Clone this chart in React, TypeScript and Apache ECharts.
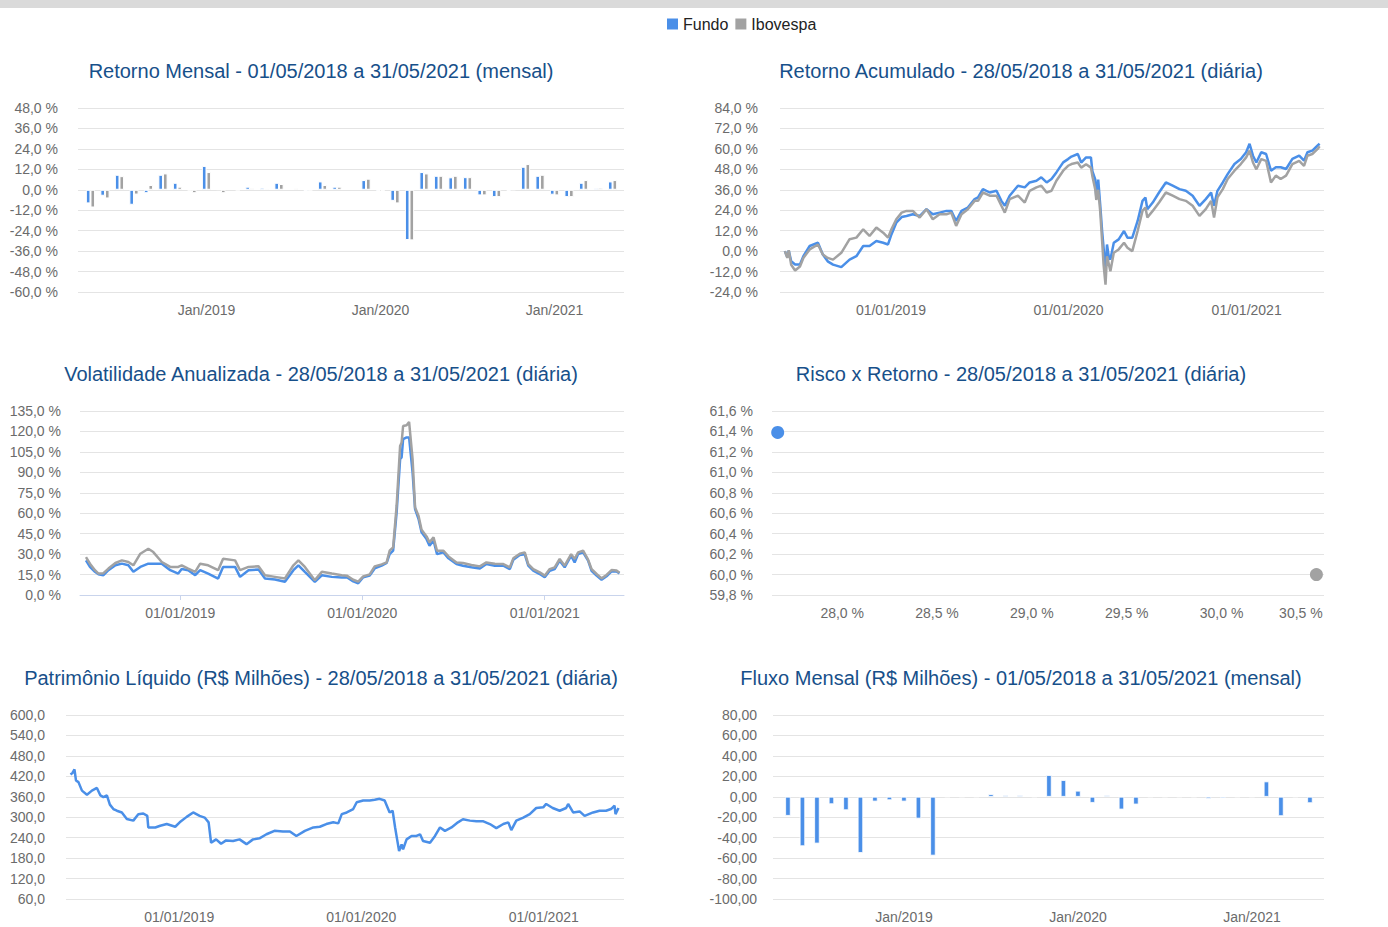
import React, { useEffect, useRef } from 'react';
import * as echarts from 'echarts';

const BLUE = '#4a8fe8';
const GRAY = '#a2a2a2';
const TITLE = '#17508a';
const LABEL = '#6b6b6b';
const GRID = '#e4e4e4';
const FONT = '"Liberation Sans", Arial, Helvetica, sans-serif';

// ---------- Retorno Mensal (37 meses: 05/2018 .. 05/2021)
const mensalMeses = [
  '05/2018', '06/2018', '07/2018', '08/2018', '09/2018', '10/2018', '11/2018', '12/2018',
  '01/2019', '02/2019', '03/2019', '04/2019', '05/2019', '06/2019', '07/2019', '08/2019',
  '09/2019', '10/2019', '11/2019', '12/2019', '01/2020', '02/2020', '03/2020', '04/2020',
  '05/2020', '06/2020', '07/2020', '08/2020', '09/2020', '10/2020', '11/2020', '12/2020',
  '01/2021', '02/2021', '03/2021', '04/2021', '05/2021',
];
const mensalFundo = [
  -8.0, -3.5, 8.8, -8.8, -2.0, 8.8, 4.1, -0.3, 14.0, 0.2, 0.3, 1.8, 1.2, 4.1, 0.4, -0.8,
  4.9, 1.8, 0.3, 5.7, -0.8, -6.5, -29.5, 10.4, 8.2, 7.3, 7.4, -3.3, -4.3, -0.8, 13.5, 8.2,
  -2.9, -4.3, 4.1, 0.9, 4.9,
];
const mensalIbov = [
  -10.4, -5.1, 8.0, -2.8, 2.8, 9.6, 1.8, -2.0, 10.4, -2.0, -0.2, 0.9, 0.7, 3.4, 0.8, -0.3,
  2.8, 1.8, 0.6, 6.5, -0.5, -8.0, -29.7, 9.6, 8.2, 8.2, 7.4, -3.3, -4.3, 0.1, 15.1, 8.8,
  -3.3, -4.3, 5.7, 1.2, 5.7,
];
const mensalTickIdx = [8, 20, 32];
const mensalTickLabels = ['Jan/2019', 'Jan/2020', 'Jan/2021'];

// ---------- Fluxo Mensal (R$ Milhões)
const fluxoMensal = [
  -18.6, -48.3, -45.7, -7.2, -13.1, -54.9, -4.6, -3.3, -4.6, -21.3, -57.5, 0, 0, 0, 2.6, 1.6,
  1.6, 0, 21.2, 16.3, 5.9, -5.9, 1.5, -12.4, -7.5, 0, 0, 0, 0, -2.0, -1.5, 0, 0, 15.0, -18.9,
  0, -6.2,
];

// ---------- Retorno Acumulado (diária)
const acumDatas = [
  '2018-05-28', '2018-06-02', '2018-06-05', '2018-06-10', '2018-06-18', '2018-06-28', '2018-07-05',
  '2018-07-18', '2018-08-04', '2018-08-14', '2018-08-24', '2018-09-04', '2018-09-21', '2018-10-08',
  '2018-10-22', '2018-11-05', '2018-11-18', '2018-12-02', '2018-12-16', '2018-12-26', '2019-01-02',
  '2019-01-12', '2019-01-23', '2019-02-02', '2019-02-15', '2019-03-01', '2019-03-15', '2019-03-28',
  '2019-04-11', '2019-04-25', '2019-05-05', '2019-05-15', '2019-05-26', '2019-06-08', '2019-06-22',
  '2019-06-29', '2019-07-09', '2019-07-23', '2019-08-06', '2019-08-16', '2019-08-23', '2019-09-02',
  '2019-09-19', '2019-10-03', '2019-10-13', '2019-10-27', '2019-11-06', '2019-11-17', '2019-11-27',
  '2019-12-07', '2019-12-21', '2019-12-31', '2020-01-07', '2020-01-20', '2020-01-27', '2020-02-06',
  '2020-02-16', '2020-02-19', '2020-02-25', '2020-02-27', '2020-03-02', '2020-03-06', '2020-03-10',
  '2020-03-13', '2020-03-17', '2020-03-20', '2020-03-24', '2020-03-27', '2020-04-03', '2020-04-13',
  '2020-04-24', '2020-05-01', '2020-05-11', '2020-05-22', '2020-06-01', '2020-06-07', '2020-06-11',
  '2020-06-22', '2020-07-05', '2020-07-19', '2020-08-02', '2020-08-16', '2020-08-29', '2020-09-12',
  '2020-09-26', '2020-10-09', '2020-10-20', '2020-10-26', '2020-11-02', '2020-11-13', '2020-11-23',
  '2020-12-07', '2020-12-20', '2020-12-31', '2021-01-07', '2021-01-14', '2021-01-21', '2021-01-31',
  '2021-02-10', '2021-02-20', '2021-03-02', '2021-03-12', '2021-03-23', '2021-04-05', '2021-04-19',
  '2021-04-29', '2021-05-06', '2021-05-16', '2021-05-27', '2021-05-31',
];
const acumFundo = [
  0, -3.5, 0.3, -6.0, -7.9, -7.9, -3.0, 3.0, 4.9, -2.0, -6.0, -7.9, -9.4, -5.0, -3.0, 3.0, 3.0,
  5.9, 4.9, 3.9, 9.8, 16.7, 20.0, 20.6, 21.6, 20.6, 24.6, 21.6, 22.6, 23.6, 23.6, 17.7, 23.6,
  25.6, 30.5, 31.5, 36.4, 34.4, 35.4, 29.5, 26.6, 32.5, 38.4, 37.4, 40.3, 41.3, 43.3, 40.3, 42.3,
  46.2, 52.1, 54.0, 55.5, 57.0, 52.0, 55.0, 55.0, 47.0, 42.0, 32.0, 42.0, 27.5, 11.8, 2.0, -12.0,
  3.9, -3.9, -4.9, 4.9, 6.9, 11.8, 7.9, 7.9, 17.7, 29.5, 31.5, 24.6, 28.5, 34.4, 40.3, 38.4, 36.4,
  35.4, 32.5, 26.6, 30.5, 34.4, 26.6, 35.4, 40.3, 45.2, 51.1, 54.1, 58.0, 63.0, 56.0, 52.0, 58.0,
  57.0, 47.2, 49.2, 49.2, 48.2, 54.1, 56.0, 53.1, 58.0, 59.0, 62.0, 63.0,
];
const acumIbov = [
  0, -4.0, 0.5, -8.0, -11.4, -9.0, -4.0, 1.0, 3.9, -2.0, -4.0, -5.0, -1.0, 7.0, 7.9, 12.8, 8.9,
  13.8, 10.8, 7.9, 12.8, 18.7, 22.6, 23.6, 23.6, 19.7, 24.6, 18.7, 21.6, 21.6, 22.6, 14.8, 21.6,
  24.6, 29.5, 29.5, 34.4, 32.5, 32.5, 26.6, 22.6, 30.5, 32.5, 28.5, 35.4, 37.4, 38.4, 34.4, 35.4,
  41.3, 47.2, 50.1, 51.1, 52.0, 49.0, 51.0, 49.0, 44.0, 36.0, 30.0, 36.0, 23.6, 6.0, -7.9, -19.7,
  -3.0, -7.9, -11.8, -1.0, 1.0, 4.9, 2.0, 0.0, 11.8, 23.6, 25.6, 19.7, 23.6, 28.5, 34.4, 32.5,
  30.5, 29.5, 26.6, 20.7, 24.6, 29.5, 19.7, 31.5, 36.4, 42.3, 47.2, 51.1, 55.0, 59.0, 52.0, 48.0,
  54.0, 53.0, 40.3, 44.3, 42.3, 44.3, 51.1, 53.0, 50.1, 56.0, 57.0, 60.0, 61.5,
];

// ---------- Volatilidade Anualizada (diária)
const volDatas = [
  '2018-06-26', '2018-07-04', '2018-07-14', '2018-07-21', '2018-07-31', '2018-08-10', '2018-08-24',
  '2018-09-06', '2018-09-19', '2018-09-29', '2018-10-13', '2018-10-29', '2018-11-08', '2018-11-25',
  '2018-12-12', '2018-12-28', '2019-01-04', '2019-01-17', '2019-01-31', '2019-02-10', '2019-02-26',
  '2019-03-18', '2019-03-28', '2019-04-21', '2019-05-01', '2019-05-18', '2019-06-07', '2019-06-20',
  '2019-07-10', '2019-07-30', '2019-08-16', '2019-08-26', '2019-09-08', '2019-09-28', '2019-10-12',
  '2019-11-01', '2019-11-21', '2019-12-01', '2019-12-14', '2019-12-24', '2020-01-03', '2020-01-16',
  '2020-01-26', '2020-02-09', '2020-02-19', '2020-02-25', '2020-03-03', '2020-03-10', '2020-03-17',
  '2020-03-20', '2020-03-23', '2020-03-30', '2020-04-04', '2020-04-11', '2020-04-16', '2020-04-23',
  '2020-04-29', '2020-05-09', '2020-05-15', '2020-05-23', '2020-05-30', '2020-06-12', '2020-06-22',
  '2020-07-08', '2020-07-21', '2020-08-07', '2020-08-24', '2020-09-06', '2020-09-23', '2020-10-10',
  '2020-10-23', '2020-10-30', '2020-11-12', '2020-11-22', '2020-11-29', '2020-12-09', '2020-12-22',
  '2021-01-01', '2021-01-11', '2021-01-21', '2021-01-31', '2021-02-10', '2021-02-23', '2021-03-02',
  '2021-03-09', '2021-03-19', '2021-03-29', '2021-04-05', '2021-04-15', '2021-04-25', '2021-05-05',
  '2021-05-15', '2021-05-25', '2021-05-31',
];
const volFundo = [
  25.4, 20.6, 17.0, 15.2, 14.5, 18.2, 21.8, 23.0, 21.8, 17.0, 20.6, 23.0, 23.0, 23.0, 18.2, 15.7,
  19.0, 18.2, 14.5, 18.2, 15.7, 12.1, 20.6, 20.6, 13.3, 18.2, 18.7, 12.1, 11.4, 9.7, 18.2, 21.8,
  17.0, 9.7, 14.5, 13.3, 12.8, 13.0, 10.0, 8.6, 13.0, 14.2, 19.5, 21.5, 23.5, 30.0, 32.5, 60.6,
  99.7, 100.9, 114.3, 115.6, 115.6, 90.0, 63.0, 55.7, 46.0, 41.0, 36.2, 40.0, 30.0, 31.3, 26.9,
  22.7, 21.5, 20.3, 19.5, 22.7, 21.5, 21.5, 19.0, 25.9, 29.3, 29.8, 21.5, 17.8, 15.4, 13.0, 17.8,
  19.0, 25.2, 20.3, 28.8, 23.9, 30.0, 31.3, 25.2, 17.8, 14.2, 11.2, 13.7, 17.3, 17.3, 15.9,
];
const volIbov = [
  27.8, 23.0, 18.2, 15.7, 16.0, 19.4, 23.5, 25.4, 24.2, 21.8, 30.3, 33.9, 31.5, 24.2, 20.6, 20.6,
  21.8, 19.4, 17.0, 23.0, 21.8, 18.2, 26.6, 25.4, 18.2, 20.6, 21.1, 14.5, 13.3, 12.1, 21.8, 25.4,
  20.6, 10.9, 17.0, 15.7, 14.5, 14.2, 11.2, 9.8, 13.7, 15.1, 21.0, 22.5, 23.9, 32.5, 35.0, 65.5,
  109.4, 111.9, 124.0, 124.6, 127.0, 99.7, 64.3, 58.0, 47.9, 43.0, 38.6, 42.3, 32.5, 32.5, 28.3,
  23.9, 23.5, 22.0, 21.0, 23.9, 23.0, 22.7, 20.3, 26.9, 30.3, 31.3, 22.7, 19.0, 16.6, 14.2, 19.0,
  20.3, 26.4, 21.5, 30.0, 26.4, 31.3, 32.5, 25.9, 19.0, 15.4, 12.2, 14.7, 18.3, 18.0, 16.4,
];

// ---------- Risco x Retorno
const riscoFundo = [27.66, 61.39];
const riscoIbov = [30.5, 60.0];
const riscoTicks = [28.0, 28.5, 29.0, 29.5, 30.0, 30.5];

// ---------- Patrimônio Líquido (R$ Milhões)
const plDatas = [
  '2018-05-28', '2018-06-01', '2018-06-05', '2018-06-08', '2018-06-13', '2018-06-20', '2018-06-30',
  '2018-07-10', '2018-07-20', '2018-07-27', '2018-08-02', '2018-08-09', '2018-08-15', '2018-08-22',
  '2018-08-29', '2018-09-08', '2018-09-18', '2018-10-01', '2018-10-11', '2018-10-21', '2018-10-29',
  '2018-10-31', '2018-11-14', '2018-11-24', '2018-12-07', '2018-12-24', '2019-01-02', '2019-01-16',
  '2019-01-29', '2019-02-11', '2019-02-21', '2019-03-01', '2019-03-06', '2019-03-16', '2019-03-26',
  '2019-04-05', '2019-04-19', '2019-05-02', '2019-05-16', '2019-05-29', '2019-06-11', '2019-06-25',
  '2019-07-11', '2019-07-28', '2019-08-11', '2019-08-24', '2019-09-10', '2019-09-27', '2019-10-10',
  '2019-10-23', '2019-11-06', '2019-11-16', '2019-11-23', '2019-12-03', '2019-12-16', '2019-12-23',
  '2020-01-05', '2020-01-18', '2020-01-28', '2020-02-07', '2020-02-17', '2020-02-27', '2020-03-04',
  '2020-03-09', '2020-03-13', '2020-03-17', '2020-03-22', '2020-03-25', '2020-04-01', '2020-04-11',
  '2020-04-21', '2020-04-28', '2020-05-04', '2020-05-18', '2020-05-28', '2020-06-07', '2020-06-17',
  '2020-06-30', '2020-07-13', '2020-07-23', '2020-08-06', '2020-08-19', '2020-09-02', '2020-09-15',
  '2020-09-28', '2020-10-12', '2020-10-22', '2020-10-28', '2020-11-07', '2020-11-21', '2020-12-04',
  '2020-12-17', '2020-12-31', '2021-01-06', '2021-01-19', '2021-02-02', '2021-02-15', '2021-02-19',
  '2021-03-01', '2021-03-14', '2021-03-24', '2021-04-10', '2021-04-23', '2021-05-06', '2021-05-16',
  '2021-05-23', '2021-05-25', '2021-05-31',
];
const plFundo = [
  425.7, 430.0, 440.5, 408.0, 403.0, 378.0, 366.0, 378.0, 386.0, 364.0, 359.0, 364.0, 337.0, 324.0,
  319.0, 314.0, 295.0, 290.0, 309.0, 311.0, 304.0, 270.0, 270.0, 275.0, 280.0, 272.0, 285.0, 301.0,
  314.0, 304.0, 299.0, 285.0, 225.0, 235.0, 222.0, 232.0, 230.0, 235.0, 221.0, 235.0, 238.0, 250.0,
  260.0, 258.0, 258.0, 245.0, 260.0, 270.0, 272.0, 280.0, 285.0, 282.0, 309.0, 314.0, 324.0, 344.0,
  349.0, 349.0, 351.0, 354.0, 349.0, 314.0, 319.0, 270.0, 235.0, 201.0, 220.0, 206.0, 235.0, 245.0,
  245.0, 250.0, 230.0, 225.0, 245.0, 270.0, 260.0, 270.0, 285.0, 294.0, 290.0, 288.0, 288.0, 280.0,
  268.0, 280.0, 285.0, 262.0, 290.0, 299.0, 309.0, 327.0, 329.0, 339.0, 327.0, 319.0, 327.0, 339.0,
  314.0, 317.0, 304.0, 314.0, 319.0, 319.0, 324.0, 334.0, 309.0, 327.0,
];

const dateTicks = ['2019-01-01', '2020-01-01', '2021-01-01'];
const dateTickLabels = ['01/01/2019', '01/01/2020', '01/01/2021'];

const ts = (s: string) => {
  const [y, m, d] = s.split('-').map(Number);
  return Date.UTC(y, m - 1, d);
};
const fmtDate = (v: number) => {
  const d = new Date(v);
  const dd = String(d.getUTCDate()).padStart(2, '0');
  const mm = String(d.getUTCMonth() + 1).padStart(2, '0');
  return `${dd}/${mm}/${d.getUTCFullYear()}`;
};
const fmtPct = (v: number) => v.toFixed(1).replace('.', ',') + ' %';
const fmt1 = (v: number) => v.toFixed(1).replace('.', ',');
const fmt2 = (v: number) => v.toFixed(2).replace('.', ',');

const yAxisBase = (gridIndex: number, min: number, max: number, interval: number, fmt: (v: number) => string, fontSize: number, margin: number) => ({
  type: 'value',
  gridIndex,
  min,
  max,
  interval,
  axisLine: { show: false },
  axisTick: { show: false },
  splitLine: { show: true, lineStyle: { color: GRID, width: 1 } },
  axisLabel: {
    formatter: fmt,
    color: LABEL,
    fontFamily: FONT,
    fontSize,
    margin,
  },
});

const xValueAxis = (gridIndex: number, min: number, max: number, custom: number[], fmt: (v: number) => string, fontSize: number, extra: any = {}) => ({
  type: 'value',
  gridIndex,
  min,
  max,
  splitLine: { show: false },
  axisLine: { show: false },
  axisTick: { show: false },
  axisLabel: {
    customValues: custom,
    formatter: fmt,
    color: LABEL,
    fontFamily: FONT,
    fontSize,
    margin: 11,
    showMinLabel: true,
    showMaxLabel: true,
  },
  ...extra,
});

const titleText = (text: string, x: number, y: number) => ({
  type: 'text',
  x,
  y,
  style: {
    text,
    fill: TITLE,
    font: `20px ${FONT}`,
    fontSize: 20,
    fontFamily: FONT,
    textAlign: 'center',
    textVerticalAlign: 'middle',
    align: 'center',
    verticalAlign: 'middle',
  },
});

export default function App() {
  const ref = useRef<HTMLDivElement>(null);

  useEffect(() => {
    document.body.style.margin = '0';
    if (!ref.current) return;
    const chart = echarts.init(ref.current, null, { renderer: 'svg' });

    const mensalTickLabel = (v: number) => {
      const k = mensalTickIdx.indexOf(Math.round(v));
      return k >= 0 ? mensalTickLabels[k] : mensalMeses[Math.round(v)] || '';
    };
    const dateTickTs = dateTicks.map(ts);
    const dateLabel = (v: number) => {
      const k = dateTickTs.indexOf(v);
      return k >= 0 ? dateTickLabels[k] : fmtDate(v);
    };

    const barCommon = {
      type: 'bar',
      barWidth: 4.6,
      barGap: '0%',
      itemStyle: { borderColor: '#ffffff', borderWidth: 1 },
    };
    const LW = 2.5;
    const lineCommon = {
      type: 'line',
      showSymbol: false,
      symbol: 'none',
      smooth: false,
    };

    const option: any = {
      animation: false,
      textStyle: { fontFamily: FONT },
      legend: {
        data: [
          { name: 'Fundo', itemStyle: { color: BLUE } },
          { name: 'Ibovespa', itemStyle: { color: GRAY } },
        ],
        left: 665,
        top: 16,
        icon: 'rect',
        itemWidth: 13,
        itemHeight: 13,
        itemGap: 5,
        padding: 0,
        textStyle: { fontSize: 16, color: '#222', fontFamily: FONT, padding: [0, 0, 0, -1] },
      },
      graphic: [
        { type: 'rect', shape: { x: 0, y: 0, width: 1388, height: 8 }, style: { fill: '#dadada' } },
        titleText('Retorno Mensal - 01/05/2018 a 31/05/2021 (mensal)', 321, 71),
        titleText('Retorno Acumulado - 28/05/2018 a 31/05/2021 (diária)', 1021, 71),
        titleText('Volatilidade Anualizada - 28/05/2018 a 31/05/2021 (diária)', 321, 374),
        titleText('Risco x Retorno - 28/05/2018 a 31/05/2021 (diária)', 1021, 374),
        titleText('Patrimônio Líquido (R$ Milhões) - 28/05/2018 a 31/05/2021 (diária)', 321, 678),
        titleText('Fluxo Mensal (R$ Milhões) - 01/05/2018 a 31/05/2021 (mensal)', 1021, 678),
      ],
      grid: [
        { left: 78, top: 108, width: 546, height: 184, outerBoundsMode: 'none' },
        { left: 780, top: 108, width: 544, height: 184, outerBoundsMode: 'none' },
        { left: 80, top: 411, width: 544, height: 184, outerBoundsMode: 'none' },
        { left: 772, top: 411, width: 552, height: 184, outerBoundsMode: 'none' },
        { left: 66, top: 715, width: 558, height: 184, outerBoundsMode: 'none' },
        { left: 773, top: 715, width: 551, height: 184, outerBoundsMode: 'none' },
      ],
      xAxis: [
        xValueAxis(0, -0.86, 36.79, mensalTickIdx, mensalTickLabel, 14),
        xValueAxis(1, ts('2018-05-18'), ts('2021-06-09'), dateTickTs, dateLabel, 14),
        xValueAxis(2, ts('2018-06-14'), ts('2021-06-09'), dateTickTs, dateLabel, 14, {
          axisLine: { show: true, onZero: false, lineStyle: { color: '#c9d4ec', width: 1 } },
          axisTick: { show: true, customValues: dateTickTs, length: 5, lineStyle: { color: '#c9d4ec' } },
        }),
        {
          type: 'value',
          gridIndex: 3,
          min: 27.63,
          max: 30.54,
          splitLine: { show: false },
          axisLine: { show: false },
          axisTick: { show: false },
          axisLabel: {
            customValues: riscoTicks,
            formatter: (v: number) => (Math.abs(v - 30.5) < 1e-6 ? `{r|${fmtPct(v)}}` : fmtPct(v)),
            rich: { r: { padding: [0, 31, 0, 0], color: LABEL, fontFamily: FONT, fontSize: 14 } },
            color: LABEL,
            fontFamily: FONT,
            fontSize: 14,
            margin: 11,
          },
        },
        xValueAxis(4, ts('2018-05-19'), ts('2021-06-11'), dateTickTs, dateLabel, 14),
        xValueAxis(5, -1.03, 36.97, mensalTickIdx, mensalTickLabel, 14),
      ],
      yAxis: [
        yAxisBase(0, -60, 48, 12, fmtPct, 14, 20),
        yAxisBase(1, -24, 84, 12, fmtPct, 14, 22),
        yAxisBase(2, 0, 135, 15, fmtPct, 14, 19),
        yAxisBase(3, 59.8, 61.6, 0.2, fmtPct, 14, 19),
        yAxisBase(4, 60, 600, 60, fmt1, 14, 21),
        yAxisBase(5, -100, 80, 20, fmt2, 14, 16),
      ],
      series: [
        {
          ...barCommon,
          name: 'Fundo',
          xAxisIndex: 0,
          yAxisIndex: 0,
          itemStyle: { ...barCommon.itemStyle, color: BLUE },
          data: mensalFundo.map((v, i) => [i, v]),
        },
        {
          ...barCommon,
          name: 'Ibovespa',
          xAxisIndex: 0,
          yAxisIndex: 0,
          itemStyle: { ...barCommon.itemStyle, color: GRAY },
          data: mensalIbov.map((v, i) => [i, v]),
        },
        {
          ...lineCommon,
          name: 'Fundo',
          xAxisIndex: 1,
          yAxisIndex: 1,
          itemStyle: { color: BLUE },
          lineStyle: { width: LW, color: BLUE },
          data: acumDatas.map((d, i) => [ts(d), acumFundo[i]]),
        },
        {
          ...lineCommon,
          name: 'Ibovespa',
          xAxisIndex: 1,
          yAxisIndex: 1,
          itemStyle: { color: GRAY },
          lineStyle: { width: LW, color: GRAY },
          data: acumDatas.map((d, i) => [ts(d), acumIbov[i]]),
        },
        {
          ...lineCommon,
          name: 'Fundo',
          xAxisIndex: 2,
          yAxisIndex: 2,
          itemStyle: { color: BLUE },
          lineStyle: { width: LW, color: BLUE },
          data: volDatas.map((d, i) => [ts(d), volFundo[i]]),
        },
        {
          ...lineCommon,
          name: 'Ibovespa',
          xAxisIndex: 2,
          yAxisIndex: 2,
          itemStyle: { color: GRAY },
          lineStyle: { width: LW, color: GRAY },
          data: volDatas.map((d, i) => [ts(d), volIbov[i]]),
        },
        {
          type: 'scatter',
          name: 'Fundo',
          xAxisIndex: 3,
          yAxisIndex: 3,
          symbolSize: 13,
          itemStyle: { color: BLUE, opacity: 1 },
          data: [riscoFundo],
        },
        {
          type: 'scatter',
          name: 'Ibovespa',
          xAxisIndex: 3,
          yAxisIndex: 3,
          symbolSize: 13,
          itemStyle: { color: GRAY, opacity: 1 },
          data: [riscoIbov],
        },
        {
          ...lineCommon,
          name: 'Fundo',
          xAxisIndex: 4,
          yAxisIndex: 4,
          itemStyle: { color: BLUE },
          lineStyle: { width: LW, color: BLUE },
          data: plDatas.map((d, i) => [ts(d), plFundo[i]]),
        },
        {
          ...barCommon,
          barWidth: 5.4,
          name: 'Fluxo',
          xAxisIndex: 5,
          yAxisIndex: 5,
          itemStyle: { borderColor: '#ffffff', borderWidth: 0.8, color: BLUE },
          data: fluxoMensal.map((v, i) => [i, v]),
        },
      ],
    };

    chart.setOption(option);
    return () => chart.dispose();
  }, []);

  return <div ref={ref} style={{ width: 1388, height: 927 }} />;
}
